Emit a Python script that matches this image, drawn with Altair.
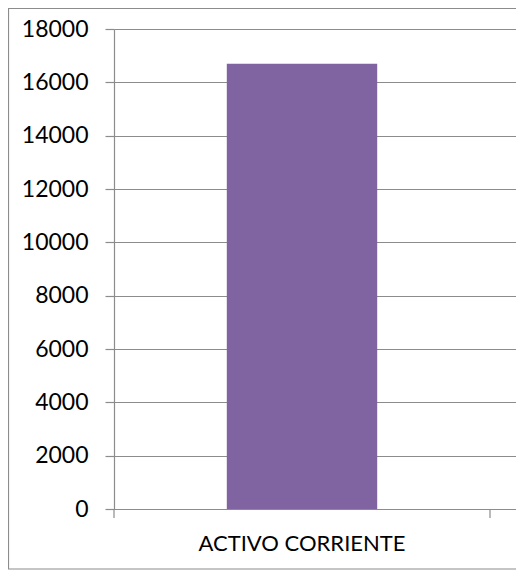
import altair as alt
import pandas as pd

categories = ["ACTIVO CORRIENTE"]
values = [16700]
y_ticks = [0, 2000, 4000, 6000, 8000, 10000, 12000, 14000, 16000, 18000]

df = pd.DataFrame({"cat": categories, "val": values})

W = 402
H = 480
STEP = 376
GRAY = "#8c8c8c"
FONT = "Lato"
BAR = "#8064A2"

xscale = alt.Scale(paddingInner=0, paddingOuter=(W / STEP - 1) / 2, align=0)
yscale = alt.Scale(domain=[0, 18000], nice=False, zero=True)

bars = alt.Chart(df).mark_bar(color=BAR, width={"band": 0.4}).encode(
    x=alt.X("cat:N", title=None, scale=xscale),
    y=alt.Y("val:Q", title=None, scale=yscale),
)

tick_start = alt.Chart(df).mark_rule(color=GRAY, strokeWidth=1.2).encode(
    x=alt.X("cat:N", title=None, bandPosition=0),
    y=alt.value(H),
    y2=alt.value(H + 9),
)
tick_end = alt.Chart(df).mark_rule(color=GRAY, strokeWidth=1.2).encode(
    x=alt.X("cat:N", title=None, bandPosition=1),
    y=alt.value(H),
    y2=alt.value(H + 9),
)

border = alt.Chart(df).mark_rect(
    fillOpacity=0, stroke=GRAY, strokeWidth=1.2
).encode(
    x=alt.value(-105.5),
    x2=alt.value(W + 20),
    y=alt.value(-20.5),
    y2=alt.value(H + 60),
)

chart = alt.layer(bars, tick_start, tick_end, border).properties(
    width=W,
    height=H,
    autosize=alt.AutoSizeParams(type="none"),
    padding={"left": 106, "top": 21, "right": 0, "bottom": 61},
).configure_view(
    strokeWidth=0
).configure_axisX(
    labelAngle=0,
    ticks=False,
    grid=False,
    domainColor=GRAY,
    domainWidth=1.2,
    labelFont=FONT,
    labelFontSize=22,
    labelColor="black",
    labelPadding=24,
    labelLimit=0,
).configure_axisY(
    values=y_ticks,
    format="d",
    tickSize=9,
    tickColor=GRAY,
    tickWidth=1.2,
    grid=True,
    gridColor=GRAY,
    gridWidth=1.2,
    domainColor=GRAY,
    domainWidth=1.2,
    labelFont=FONT,
    labelFontSize=23,
    labelColor="black",
    labelPadding=17,
)

chart.save("out.html", embed_options={"renderer": "svg", "actions": False})
